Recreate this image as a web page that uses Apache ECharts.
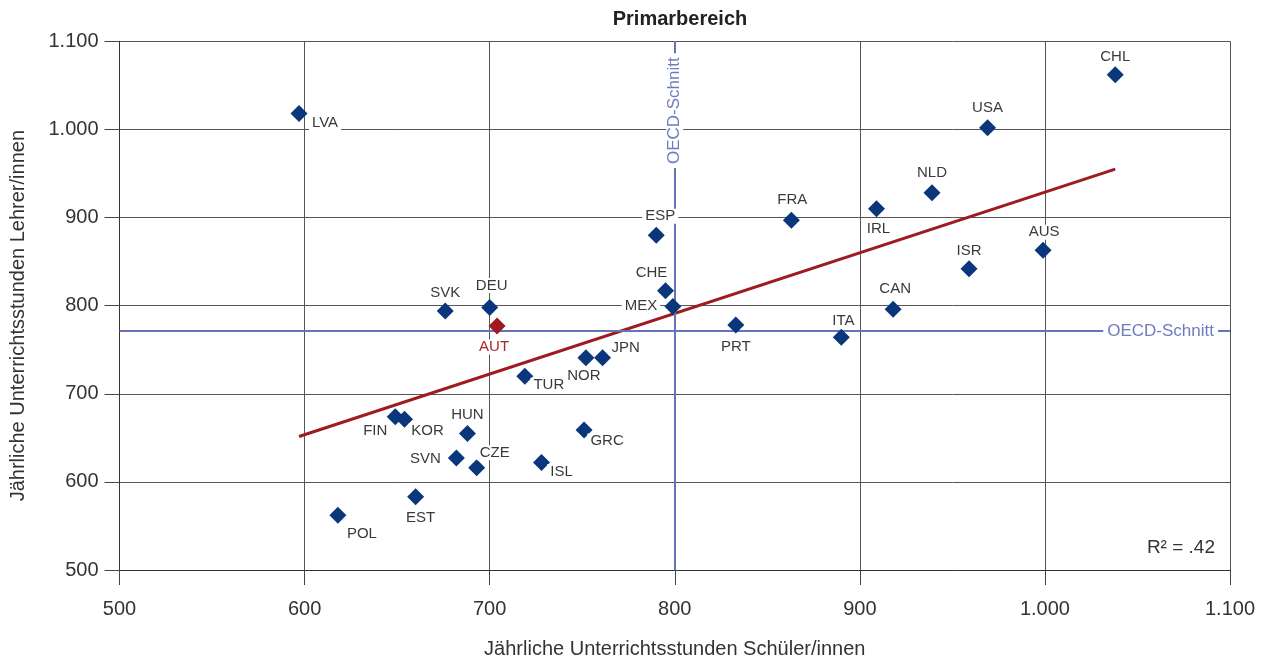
<!DOCTYPE html>
<html><head><meta charset="utf-8">
<script src="https://cdn.jsdelivr.net/npm/echarts@6/dist/echarts.min.js"></script>
<style>html,body{margin:0;padding:0;background:#fff}#c{width:1271px;height:664px}</style>
</head><body><div id="c"></div>
<script>
// ---- data ----
const countries    = ['LVA','CHL','USA','NLD','IRL','AUS','ISR','CAN','ITA','FRA','ESP','CHE','MEX','PRT','SVK','DEU','AUT','NOR','JPN','TUR','FIN','KOR','HUN','GRC','SVN','CZE','ISL','EST','POL'];
const studentHours = [597, 1038, 969, 939, 909, 999, 959, 918, 890, 863, 790, 795, 799, 833, 676, 700, 704, 752, 761, 719, 649, 654, 688, 751, 682, 693, 728, 660, 618];
const teacherHours = [1018, 1062, 1002, 928, 910, 863, 842, 796, 764, 897, 880, 817, 799, 778, 794, 798, 777, 741, 741, 720, 674, 671, 655, 659, 627, 616, 622, 583, 562];
const highlight    = 'AUT';
const oecdStudent  = 800;
const oecdTeacher  = 771;
const trendX       = [597, 1038];
const trendY       = [651.5, 955];
const rSquaredText = 'R² = .42';
const xTickMin = 500, xTickMax = 1100, yTickMin = 500, yTickMax = 1100, tickStep = 100;
const titleText = 'Primarbereich';
const xName = 'Jährliche Unterrichtsstunden Schüler/innen';
const yName = 'Jährliche Unterrichtsstunden Lehrer/innen';
const oecdLabel = 'OECD-Schnitt';

// ---- label placement (style) ----
const labelOffset = {
  LVA:[26,9], CHL:[0,-18], USA:[0,-20], NLD:[0,-20], IRL:[2,20], AUS:[1,-18], ISR:[0,-18],
  CAN:[2,-20], ITA:[2,-17], FRA:[1,-20], ESP:[4,-19], CHE:[-14,-18], MEX:[-32,-1], PRT:[0,22],
  SVK:[0,-18], DEU:[2,-22], AUT:[-3,21], NOR:[-2,18], JPN:[23,-10], TUR:[24,9], FIN:[-20,14],
  KOR:[23,12], HUN:[0,-19], GRC:[23,11], SVN:[-31,1], CZE:[18,-15], ISL:[20,9], EST:[5,21], POL:[24,18]
};

const FONT = '"Liberation Sans", Arial, sans-serif';
const BLUE = '#0a367c', RED = '#9e1b22', OECD = '#6574b8', TXT = '#333';
const SYM = 17;

function fmt(v){ return v >= 1000 ? Math.floor(v/1000) + '.' + String(v % 1000).padStart(3,'0') : String(v); }

const points = countries.map((c, i) => {
  const isH = c === highlight;
  const o = labelOffset[c] || [0,-18];
  return {
    value: [studentHours[i], teacherHours[i]],
    name: c,
    itemStyle: { color: isH ? RED : BLUE, opacity: 1 },
    label: { position: [SYM / 2 + o[0], SYM / 2 + o[1]], color: isH ? '#a8272b' : '#3a3a3a' }
  };
});

const chart = echarts.init(document.getElementById('c'), null, { renderer: 'canvas' });
chart.setOption({
  animation: false,
  backgroundColor: '#fff',
  textStyle: { fontFamily: FONT },
  title: { text: titleText, left: 675, textAlign: 'center', top: 4,
           textStyle: { fontFamily: FONT, fontSize: 20, fontWeight: 'bold', color: '#222' } },
  grid: { left: 119.5, right: 41, top: 41.3, bottom: 93.5, containLabel: false },
  xAxis: {
    type: 'value', min: xTickMin, max: xTickMax, interval: tickStep,
    name: xName, nameLocation: 'middle', nameGap: 69,
    nameTextStyle: { fontFamily: FONT, fontSize: 20, color: TXT },
    axisLine: { show: true, lineStyle: { color: '#333', width: 1 } },
    axisTick: { show: true, inside: false, length: 15, lineStyle: { color: '#444', width: 1 } },
    axisLabel: { formatter: fmt, margin: 29, fontFamily: FONT, fontSize: 20, color: TXT },
    splitLine: { show: true, lineStyle: { color: '#555', width: 1 } }
  },
  yAxis: {
    type: 'value', min: yTickMin, max: yTickMax, interval: tickStep,
    name: yName, nameLocation: 'middle', nameGap: 91, nameRotate: 90,
    nameTextStyle: { fontFamily: FONT, fontSize: 20, color: TXT, padding: [0, 20, 0, 0] },
    axisLine: { show: true, lineStyle: { color: '#333', width: 1 } },
    axisTick: { show: true, inside: false, length: 15, lineStyle: { color: '#444', width: 1 } },
    axisLabel: { formatter: fmt, margin: 21, fontFamily: FONT, fontSize: 20, color: TXT },
    splitLine: { show: true, lineStyle: { color: '#555', width: 1 } }
  },
  series: [
    {
      type: 'line', data: [], z: 1, silent: true,
      markLine: {
        silent: true, symbol: 'none', animation: false,
        lineStyle: { color: OECD, width: 2, type: 'solid' },
        label: { show: true, formatter: oecdLabel, position: 'insideEnd', distance: 12,
                 color: '#6f7cbf', fontFamily: FONT, fontSize: 17, backgroundColor: '#fff', padding: [0, 4] },
        data: [
          [{ coord: [oecdStudent, yTickMin] }, { coord: [oecdStudent, yTickMax] }],
          [{ coord: [xTickMin, oecdTeacher] }, { coord: [xTickMax, oecdTeacher] }]
        ]
      }
    },
    {
      type: 'line', z: 3, silent: true, symbol: 'none',
      data: trendX.map((x, i) => [x, trendY[i]]),
      lineStyle: { color: RED, width: 3 }
    },
    {
      type: 'scatter', z: 5, symbol: 'diamond', symbolSize: SYM,
      data: points,
      itemStyle: { opacity: 1 },
      label: { show: true, formatter: p => p.name, fontFamily: FONT, fontSize: 15,
               align: 'center', verticalAlign: 'middle', backgroundColor: '#fff', padding: [0, 3] },
      labelLayout: { hideOverlap: false }
    }
  ],
  graphic: [{
    type: 'text', right: 56, top: 538, z: 10,
    style: { text: rSquaredText, font: '19px ' + FONT, fill: TXT }
  }]
});
</script></body></html>
